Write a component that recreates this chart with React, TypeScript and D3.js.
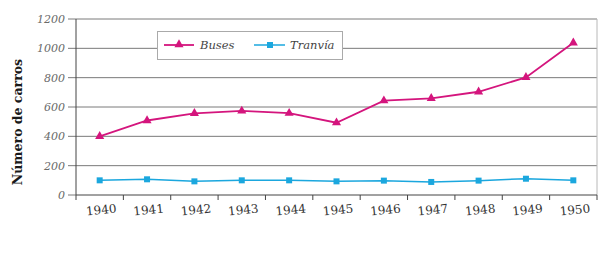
import React from "react";
import * as d3 from "d3";

const years = ["1940", "1941", "1942", "1943", "1944", "1945", "1946", "1947", "1948", "1949", "1950"];
const buses = [400, 508, 557, 573, 558, 493, 643, 659, 704, 802, 1038];
const tranvia = [100, 107, 93, 100, 100, 93, 98, 89, 98, 111, 100];
const yTicks = [0, 200, 400, 600, 800, 1000, 1200];
const seriesNames = ["Buses", "Tranvía"];

const W = 615, H = 255;
const left = 76, right = 597, top = 19, bottom = 195;
const busColor = "#d4157d";
const tranColor = "#1ba7de";

export default function App() {
  const x = d3.scaleBand<string>().domain(years).range([left, right]).paddingInner(0).paddingOuter(0);
  const y = d3.scaleLinear().domain([0, 1200]).range([bottom, top]);
  const cx = (yr: string) => (x(yr) as number) + x.bandwidth() / 2;
  const line = d3.line<number>().x((_, i) => cx(years[i])).y((v) => y(v)).curve(d3.curveLinear);
  const tri = d3.symbol().type(d3.symbolTriangle).size(36)();
  const sq = d3.symbol().type(d3.symbolSquare).size(36)();
  const boundaries = [...years.map((yr) => x(yr) as number), right];

  return (
    <svg width={W} height={H} style={{ position: "absolute", left: 0, top: 0, background: "#fff" }}>
      {/* gridlines */}
      {yTicks.map((t) => (
        <line key={t} x1={68} x2={t === 0 ? left : right} y1={y(t)} y2={y(t)} stroke="#7a7a7a" strokeWidth={1} />
      ))}
      {yTicks.map((t) => (
        <text key={"l" + t} x={65} y={y(t) + 4} textAnchor="end" fontFamily="DejaVu Serif" fontStyle="italic" fontSize={11} fill="#6a6a6a">
          {t}
        </text>
      ))}
      {/* right border */}
      <line x1={right} x2={right} y1={top} y2={bottom} stroke="#b8b8b8" />
      {/* axes */}
      <line x1={left} x2={left} y1={top} y2={bottom} stroke="#444" />
      <line x1={left} x2={right} y1={bottom} y2={bottom} stroke="#444" />
      {boundaries.map((b, i) => (
        <line key={"t" + i} x1={b} x2={b} y1={bottom} y2={bottom + 5} stroke="#444" />
      ))}
      {years.map((yr) => (
        <text key={yr} transform={`translate(${cx(yr) + 2},${214}) rotate(-6)`} textAnchor="middle" fontFamily="DejaVu Serif" fontSize={12} fill="#333">
          {yr}
        </text>
      ))}
      {/* y title */}
      <text transform={`translate(22,122) rotate(-90)`} textAnchor="middle" fontFamily="DejaVu Serif" fontWeight="bold" fontSize={12.5} fill="#1a1a1a">
        Número de carros
      </text>
      {/* series */}
      <path d={line(tranvia) || ""} fill="none" stroke={tranColor} strokeWidth={1.5} />
      {tranvia.map((v, i) => (
        <path key={"s" + i} d={sq || ""} transform={`translate(${cx(years[i])},${y(v)})`} fill={tranColor} />
      ))}
      <path d={line(buses) || ""} fill="none" stroke={busColor} strokeWidth={1.8} />
      {buses.map((v, i) => (
        <path key={"b" + i} d={tri || ""} transform={`translate(${cx(years[i])},${y(v)})`} fill={busColor} />
      ))}
      {/* legend */}
      <rect x={157.5} y={31.5} width={185} height={28} fill="#fff" stroke="#aaa" />
      <line x1={164} x2={194} y1={45} y2={45} stroke={busColor} strokeWidth={1.8} />
      <path d={tri || ""} transform="translate(179,44.5)" fill={busColor} />
      <text x={200} y={49} fontFamily="DejaVu Serif" fontStyle="italic" fontSize={11.5} fill="#444">{seriesNames[0]}</text>
      <line x1={254} x2={285} y1={45} y2={45} stroke={tranColor} strokeWidth={1.5} />
      <path d={sq || ""} transform="translate(270,45)" fill={tranColor} />
      <text x={290} y={49} fontFamily="DejaVu Serif" fontStyle="italic" fontSize={11.5} fill="#444">{seriesNames[1]}</text>
    </svg>
  );
}
